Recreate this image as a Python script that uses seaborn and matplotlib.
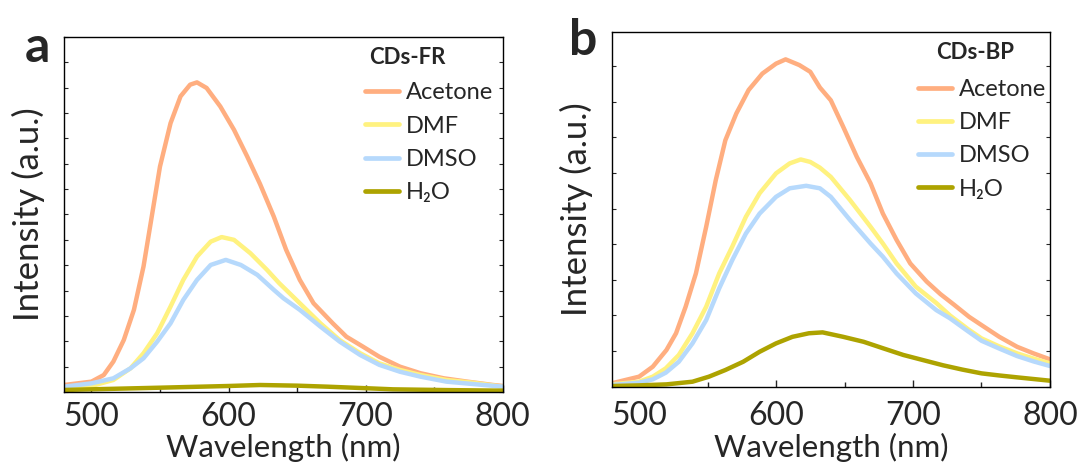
import matplotlib
matplotlib.use("Agg")
import matplotlib.pyplot as plt
from matplotlib.ticker import MultipleLocator, NullFormatter
import pandas as pd
import seaborn as sns

# ---- emission spectra, panel a (CDs-FR) ----
wl_a_acetone = [480, 500, 509, 516, 523.6, 531, 538, 544, 550, 557.7, 565, 572, 577, 584, 594, 604, 613.6,
                623, 633, 642, 652, 662, 676, 686, 698, 710, 725, 740, 757, 774, 793, 800]
int_a_acetone = [276, 408, 670, 1200, 2050, 3240, 4950, 6920, 8890, 10600, 11660, 12120, 12210, 11990, 11260,
                 10340, 9290, 8200, 6920, 5610, 4420, 3500, 2710, 2180, 1790, 1390, 1000, 740, 540, 410, 276, 237]

wl_a_dmf = [480, 500, 516, 528.5, 538, 548, 557.7, 567, 577, 587, 595, 604, 616, 628, 637, 652, 667, 681,
            696, 710, 725, 740, 759, 778, 800]
int_a_dmf = [145, 237, 474, 934, 1530, 2320, 3370, 4420, 5340, 5930, 6110, 6000, 5470, 4820, 4290, 3500, 2710,
             2050, 1530, 1130, 870, 670, 474, 368, 210]

wl_a_dmso = [480, 500, 516, 528.5, 538, 548, 557.7, 567, 577, 587, 598, 609, 621, 633, 640, 652, 667, 681,
             696, 710, 725, 740, 759, 778, 800]
int_a_dmso = [210, 342, 540, 934, 1330, 1990, 2710, 3630, 4420, 5010, 5210, 5010, 4620, 4030, 3700, 3240, 2580,
              1990, 1460, 1070, 800, 605, 408, 316, 210]

wl_a_h2o = [480, 550, 600, 623, 650, 672, 700, 720, 760, 800]
int_a_h2o = [80, 170, 237, 276, 250, 210, 150, 105, 75, 53]

# ---- emission spectra, panel b (CDs-BP) ----
wl_b_acetone = [480, 500, 510, 520, 527, 534, 541.5, 549, 556, 563, 571, 580, 590, 600, 607, 617, 625, 632,
                640, 649, 659, 669, 678, 688, 698, 710, 720, 730, 741, 750, 763, 776, 788, 800]
int_b_acetone = [94, 281, 561, 1030, 1500, 2245, 3180, 4490, 5800, 6920, 7670, 8330, 8790, 9070, 9190, 9030,
                 8840, 8400, 8040, 7300, 6450, 5710, 4860, 4120, 3460, 2950, 2600, 2300, 1960, 1730, 1400,
                 1120, 935, 767]

wl_b_dmf = [480, 500, 510, 519.5, 529, 539, 549, 558.5, 568, 578, 588, 600, 610, 618, 625, 632, 640, 654,
            669, 678, 688, 702, 717, 727, 740, 750, 763, 776, 788, 800]
int_b_dmf = [65, 140, 281, 515, 890, 1500, 2245, 3180, 3930, 4770, 5430, 5990, 6270, 6380, 6310, 6150, 5890,
             5240, 4490, 4020, 3460, 2810, 2350, 2000, 1620, 1356, 1130, 935, 790, 655]

wl_b_dmso = [480, 500, 510, 519.5, 529, 539, 549, 558.5, 568, 578, 588, 600, 610, 622, 632, 640, 654, 669,
             678, 688, 702, 717, 727, 740, 750, 763, 776, 788, 800]
int_b_dmso = [47, 112, 206, 393, 700, 1216, 1870, 2760, 3550, 4300, 4860, 5330, 5570, 5640, 5570, 5330, 4680,
              4020, 3650, 3180, 2620, 2150, 1920, 1560, 1290, 1070, 860, 710, 580]

wl_b_h2o = [480, 500, 520, 539, 551, 563, 576, 588, 600, 612, 624, 634, 649, 664, 678, 693, 707, 722, 736,
            750, 763, 776, 788, 800]
int_b_h2o = [19, 37, 65, 140, 281, 468, 700, 980, 1216, 1400, 1500, 1525, 1400, 1260, 1080, 890, 750, 600,
             480, 374, 315, 262, 215, 168]

solvents = ["Acetone", "DMF", "DMSO", "H₂O"]
palette = {"Acetone": "#FFAE80", "DMF": "#FFF280", "DMSO": "#B6D9FC", "H₂O": "#ADA300"}


def long_form(wls, ints):
    frames = []
    for name, w, v in zip(solvents, wls, ints):
        frames.append(pd.DataFrame({"Wavelength": w, "Intensity": v, "Solvent": name}))
    return pd.concat(frames, ignore_index=True)


df_a = long_form([wl_a_acetone, wl_a_dmf, wl_a_dmso, wl_a_h2o],
                 [int_a_acetone, int_a_dmf, int_a_dmso, int_a_h2o])
df_b = long_form([wl_b_acetone, wl_b_dmf, wl_b_dmso, wl_b_h2o],
                 [int_b_acetone, int_b_dmf, int_b_dmso, int_b_h2o])

sns.set_style("ticks")
plt.rcParams["font.family"] = ["Lato", "DejaVu Sans"]

fig = plt.figure(figsize=(10.83, 4.66), dpi=100)
ax_a = fig.add_axes([0.0591, 0.1588, 0.4051, 0.7618])
ax_b = fig.add_axes([0.5648, 0.1702, 0.4047, 0.7605])

# axes, data, legend title, y max, title (x, y), legend anchor (x, y), letter (x, y), tick pad
panels = [
    (ax_a, df_a, "CDs-FR", 14000, "a", (0.783, 0.941), (0.686, 0.702), (-0.0615, 0.93), 7),
    (ax_b, df_b, "CDs-BP", 9950, "b", (0.829, 0.944), (0.699, 0.698), (-0.066, 0.936), 10),
]

for ax, df, title, ymax, letter, title_xy, leg_xy, letter_xy, tpad in panels:
    sns.lineplot(data=df, x="Wavelength", y="Intensity", hue="Solvent",
                 hue_order=solvents, palette=palette, linewidth=3.2,
                 ax=ax, legend=True, sort=True)
    ax.set_xlim(480, 800)
    ax.set_ylim(0, ymax)
    ax.xaxis.set_major_locator(MultipleLocator(100))
    ax.xaxis.set_minor_locator(MultipleLocator(50))
    ax.yaxis.set_major_locator(MultipleLocator(1000))
    ax.yaxis.set_major_formatter(NullFormatter())
    ax.tick_params(axis="x", which="major", direction="in", length=5, width=1,
                   labelsize=23, pad=tpad, top=False)
    ax.tick_params(axis="x", which="minor", direction="in", length=3.5, width=1, top=False)
    ax.tick_params(axis="y", which="major", direction="in", length=3, width=0.8,
                   left=True, right=True)
    for sp in ax.spines.values():
        sp.set_linewidth(1.0)
        sp.set_color("black")
    ax.set_xlabel("Wavelength (nm)", fontsize=22.5, va="center")
    ax.set_ylabel("Intensity (a.u.)", fontsize=25, labelpad=10)

    handles, labels = ax.get_legend_handles_labels()
    leg = ax.legend(handles, labels, loc="center left", bbox_to_anchor=leg_xy,
                    frameon=False, fontsize=17, handlelength=1.45,
                    handletextpad=0.3, labelspacing=0.52, borderpad=0,
                    borderaxespad=0)
    for line in leg.get_lines():
        line.set_linewidth(3.4)
        line.set_solid_capstyle("round")

    ax.text(title_xy[0], title_xy[1], title, transform=ax.transAxes,
            fontsize=16, fontweight="bold", ha="center", va="center")
    ax.text(letter_xy[0], letter_xy[1], letter, transform=ax.transAxes,
            fontsize=36, fontweight="bold", ha="center", va="baseline")

# x labels sit centred under each panel, at a shared height near the bottom edge
for ax in (ax_a, ax_b):
    pos = ax.get_position()
    ax.xaxis.set_label_coords(pos.x0 + pos.width / 2, 1 - 447 / 466, transform=fig.transFigure)

fig.savefig("out.png", dpi=100)
